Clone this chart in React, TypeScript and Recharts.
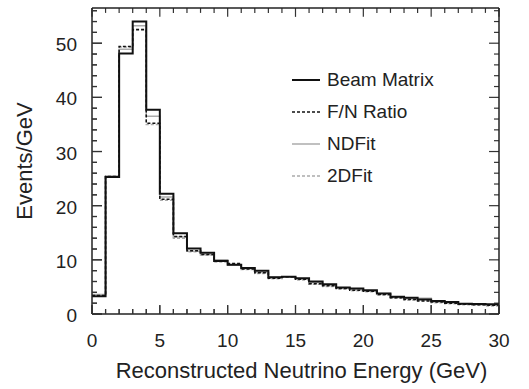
import React from 'react';
import { ComposedChart, Line, XAxis, YAxis, Legend, ReferenceLine } from 'recharts';

const binStarts = [0,1,2,3,4,5,6,7,8,9,10,11,12,13,14,15,16,17,18,19,20,21,22,23,24,25,26,27,28,29,30];
const beamMatrix = [3.3, 25.3, 48.1, 54.0, 37.7, 22.2, 14.9, 12.1, 11.3, 9.8, 9.1, 8.5, 8.0, 6.8, 6.9, 6.6, 6.0, 5.5, 4.9, 4.7, 4.4, 3.8, 3.2, 3.0, 2.7, 2.4, 2.2, 1.9, 1.85, 1.8];
const fnRatio = [3.4, 25.4, 49.4, 52.5, 35.2, 21.2, 14.3, 11.7, 11.0, 9.7, 9.3, 8.3, 7.6, 6.6, 6.9, 6.4, 5.6, 5.2, 4.7, 4.4, 4.2, 3.6, 3.0, 2.7, 2.4, 2.2, 2.0, 1.8, 1.7, 1.6];
const ndFit = [3.6, 25.5, 48.9, 53.2, 36.5, 21.6, 14.2, 11.6, 11.0, 10.0, 9.0, 8.4, 7.7, 6.8, 6.9, 6.5, 5.8, 5.4, 4.8, 4.6, 4.3, 3.8, 3.1, 2.8, 2.9, 2.3, 2.1, 1.9, 1.8, 1.7];
const twoDFit = [3.5, 25.3, 49.3, 52.6, 35.0, 21.0, 14.0, 11.5, 10.9, 9.9, 9.4, 8.2, 7.5, 6.5, 6.8, 6.3, 5.5, 5.1, 4.6, 4.3, 4.1, 3.5, 2.9, 2.6, 2.5, 2.1, 1.9, 1.7, 1.6, 1.5];
const xTicks = [0,1,2,3,4,5,6,7,8,9,10,11,12,13,14,15,16,17,18,19,20,21,22,23,24,25,26,27,28,29,30];
const yTicks = [0,2,4,6,8,10,12,14,16,18,20,22,24,26,28,30,32,34,36,38,40,42,44,46,48,50,52,54,56];

const X_MAX = 30;
const Y_MAX = 56.5;
// tick lengths expressed as fractions of the axis span
const X_TICK_FRAC = { major: 0.029, minor: 0.016 }; // vertical ticks, fraction of Y span
const Y_TICK_FRAC = { major: 0.0245, minor: 0.0123 }; // horizontal ticks, fraction of X span

const last = beamMatrix.length - 1;
const data = binStarts.map((x, i) => {
  const k = Math.min(i, last);
  return { x, beam: beamMatrix[k], fn: fnRatio[k], nd: ndFit[k], td: twoDFit[k] };
});

const FONT = 'Liberation Sans, Arial, Helvetica, sans-serif';
const TXT = '#222';
const GRAY = '#ababab';
const TK = '#333';
const AXIS_STYLE = { stroke: '#222', strokeWidth: 1.5 };

const BottomTick = (props: any) => {
  const x = Number(props.x);
  const y = Number(props.y);
  const v = props.payload.value;
  const major = v % 5 === 0;
  const len = major ? 9 : 5;
  return (
    <g>
      <line x1={x} x2={x} y1={y} y2={y - len} stroke={TK} strokeWidth={1.2} />
      {major && <text x={x} y={y + 33} textAnchor="middle" fontSize={19} fontFamily={FONT} fill={TXT}>{v}</text>}
    </g>
  );
};
const LeftTick = (props: any) => {
  const x = Number(props.x);
  const y = Number(props.y);
  const v = props.payload.value;
  const major = v % 10 === 0;
  const len = major ? 10 : 5;
  return (
    <g>
      <line x1={x} x2={x + len} y1={y} y2={y} stroke={TK} strokeWidth={1.2} />
      {major && <text x={x - 15} y={y + 8} textAnchor="end" fontSize={19} fontFamily={FONT} fill={TXT}>{v}</text>}
    </g>
  );
};

const xTickSegments = xTicks.map((t) => {
  const len = (t % 5 === 0 ? X_TICK_FRAC.major : X_TICK_FRAC.minor) * Y_MAX;
  return { t, bottom: [{ x: t, y: 0 }, { x: t, y: len }], top: [{ x: t, y: Y_MAX }, { x: t, y: Y_MAX - len }] };
});
const yTickSegments = yTicks.map((t) => {
  const len = (t % 10 === 0 ? Y_TICK_FRAC.major : Y_TICK_FRAC.minor) * X_MAX;
  return { t, left: [{ x: 0, y: t }, { x: len, y: t }], right: [{ x: X_MAX, y: t }, { x: X_MAX - len, y: t }] };
});

const legendItems = [
  { name: 'Beam Matrix', color: '#111', dash: undefined, w: 2 },
  { name: 'F/N Ratio', color: '#111', dash: '3 2', w: 1.5 },
  { name: 'NDFit', color: GRAY, dash: undefined, w: 1.5 },
  { name: '2DFit', color: GRAY, dash: '3 2', w: 1.5 },
];

const LegendContent = () => (
  <div style={{ fontFamily: FONT, fontSize: 19, color: TXT }}>
    {legendItems.map((it) => (
      <div key={it.name} style={{ display: 'flex', alignItems: 'center', height: 32 }}>
        <svg width={35} height={10} style={{ display: 'block' }}>
          <line x1={0} x2={28} y1={5} y2={5} stroke={it.color} strokeWidth={it.w} strokeDasharray={it.dash} />
        </svg>
        <span>{it.name}</span>
      </div>
    ))}
  </div>
);

export default function App() {
  return (
    <div style={{ position: 'absolute', left: 0, top: 0, background: '#fff' }}>
      <ComposedChart width={529} height={389} data={data} margin={{ top: 7, right: 29, bottom: 0, left: 0 }}>
        <XAxis dataKey="x" type="number" domain={[0, X_MAX]} ticks={xTicks} interval={0} height={75}
          axisLine={AXIS_STYLE} tickLine={false} tickSize={0} tickMargin={0} tick={BottomTick}
          label={{ value: 'Reconstructed Neutrino Energy (GeV)', position: 'insideBottom', offset: 11, dx: 6, fontSize: 22, fontFamily: FONT, fill: TXT }} />
        <XAxis xAxisId="top" dataKey="x" type="number" orientation="top" domain={[0, X_MAX]} ticks={xTicks} interval={0} height={1}
          axisLine={AXIS_STYLE} tickLine={false} tick={false} />
        <YAxis type="number" domain={[0, Y_MAX]} ticks={yTicks} interval={0} width={92}
          axisLine={AXIS_STYLE} tickLine={false} tickSize={0} tickMargin={0} tick={LeftTick}
          label={{ value: 'Events/GeV', angle: -90, position: 'center', dx: -22, fontSize: 22, fontFamily: FONT, fill: TXT }} />
        <YAxis yAxisId="right" orientation="right" type="number" domain={[0, Y_MAX]} ticks={yTicks} interval={0} width={1}
          axisLine={AXIS_STYLE} tickLine={false} tick={false} />
        {xTickSegments.map((s) => (
          <ReferenceLine key={'xb' + s.t} segment={s.bottom} stroke={TK} strokeWidth={1.2} ifOverflow="visible" />
        ))}
        {xTickSegments.map((s) => (
          <ReferenceLine key={'xt' + s.t} segment={s.top} stroke={TK} strokeWidth={1.2} ifOverflow="visible" />
        ))}
        {yTickSegments.map((s) => (
          <ReferenceLine key={'yl' + s.t} segment={s.left} stroke={TK} strokeWidth={1.2} ifOverflow="visible" />
        ))}
        {yTickSegments.map((s) => (
          <ReferenceLine key={'yr' + s.t} segment={s.right} stroke={TK} strokeWidth={1.2} ifOverflow="visible" />
        ))}
        <Legend layout="vertical" align="center" verticalAlign="middle" content={<LegendContent />}
          wrapperStyle={{ position: 'absolute', left: 292, top: 64, width: 180 }} />
        <Line type="stepAfter" dataKey="td" stroke={GRAY} strokeWidth={1.5} strokeDasharray="3 2" dot={false} isAnimationActive={false} />
        <Line type="stepAfter" dataKey="nd" stroke={GRAY} strokeWidth={1.5} dot={false} isAnimationActive={false} />
        <Line type="stepAfter" dataKey="fn" stroke="#111" strokeWidth={1.5} strokeDasharray="3 2" dot={false} isAnimationActive={false} />
        <Line type="stepAfter" dataKey="beam" stroke="#111" strokeWidth={2} dot={false} isAnimationActive={false} />
      </ComposedChart>
    </div>
  );
}
